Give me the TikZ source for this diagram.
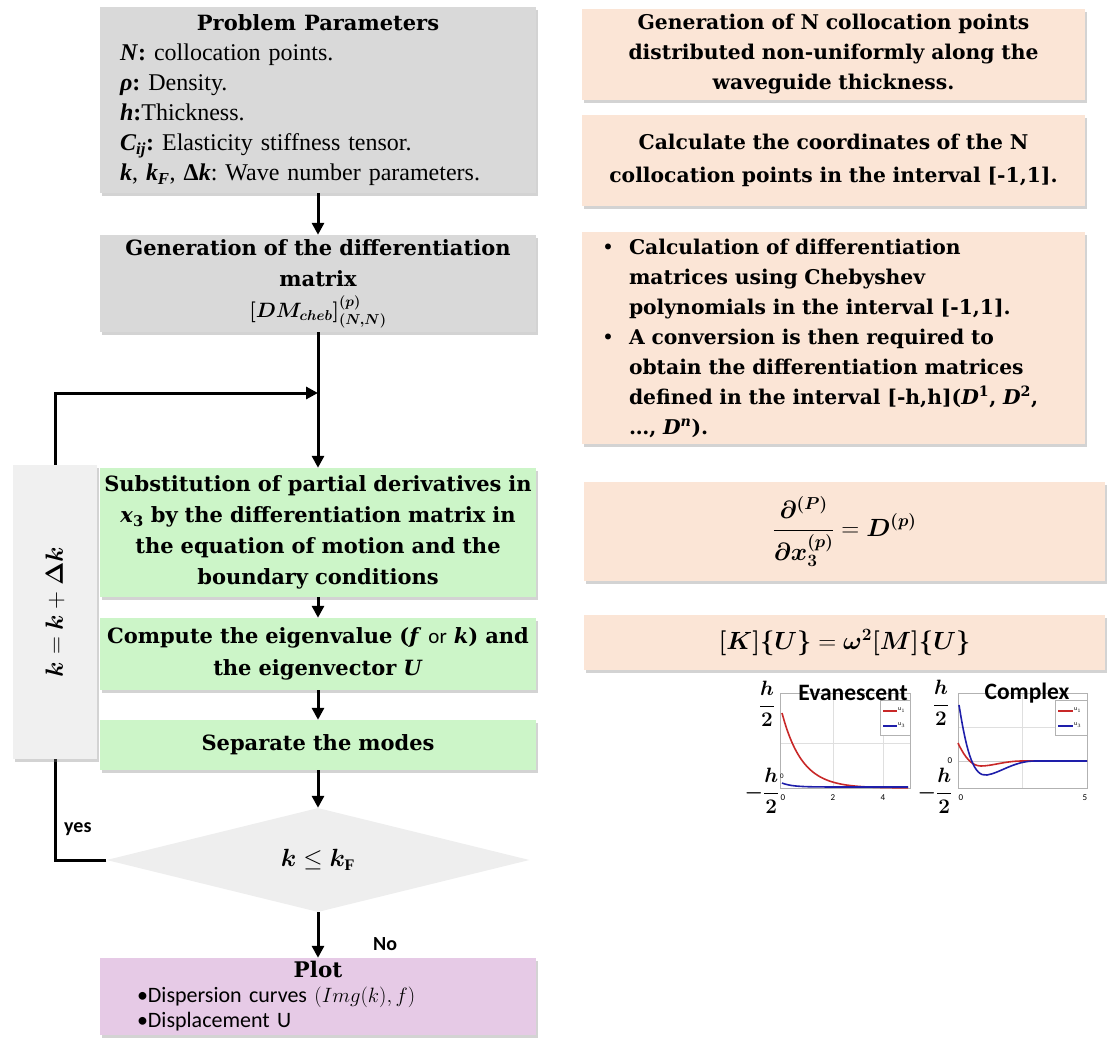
\documentclass[tikz,border=0pt]{standalone}
\usepackage{fontspec}
\usepackage{amsmath}
\usepackage{bm}
\setmainfont{Liberation Serif}
\newfontfamily\hdfam{DejaVu Serif}
\newfontfamily\calib{Carlito}
\usetikzlibrary{arrows.meta,shapes.geometric,shadows}
\definecolor{peach}{RGB}{251,229,214}
\definecolor{boxgray}{RGB}{217,217,217}
\definecolor{boxgreen}{RGB}{204,245,200}
\definecolor{boxpurple}{RGB}{230,202,230}
\definecolor{bargray}{RGB}{240,240,240}
\definecolor{diagray}{RGB}{238,238,238}
\definecolor{plred}{RGB}{200,40,40}
\definecolor{plblue}{RGB}{30,30,170}
\pgfdeclarelayer{bg}
\pgfsetlayers{bg,main}
\newcommand{\hdf}{\hdfam\bfseries\fontsize{20.3}{30}\selectfont}
\newcommand{\hdl}{\hdfam\bfseries\fontsize{21}{31}\selectfont}
\newcommand{\bi}[1]{\textbf{\textit{#1}}}
\frenchspacing
\begin{document}
\frenchspacing
\begin{tikzpicture}[x=1pt,y=-1pt,
  shd/.style={drop shadow={shadow xshift=2pt,shadow yshift=-3pt,opacity=0.35}},
  card/.style={shd,inner ysep=0pt,inner xsep=20pt,text width=#1},
  lcard/.style={shd,inner ysep=0pt,inner xsep=3pt,text width=430pt,align=center,font=\hdl},
  arr/.style={line width=3pt,-{Triangle[length=12pt,width=12pt]}},
  tick/.style={font=\calib\fontsize{9}{10}\selectfont,inner sep=0pt},
  leg/.style={font=\calib\fontsize{6}{7}\selectfont,inner sep=0pt,anchor=west},
  ptitle/.style={font=\calib\bfseries\fontsize{23.5}{24}\selectfont,inner sep=0pt},
  hlab/.style={font=\fontsize{21}{24}\selectfont,inner sep=0pt},
  lbl/.style={font=\calib\bfseries\fontsize{20}{24}\selectfont,inner sep=0pt,anchor=west}]
\useasboundingbox (0,0) rectangle (1109,1038);

% ---------------- left column ----------------
\node[card=396pt,fill=boxgray,minimum height=186pt,align=left,
      font=\fontsize{24}{30}\selectfont\frenchspacing] (params) at (318,100)
 {\makebox[396pt][c]{\hdfam\bfseries\fontsize{21}{30}\selectfont Problem Parameters}\\
  \bi{N}\textbf{:} collocation points.\\
  \bi{ρ}\textbf{:} Density.\\
  \bi{h}\textbf{:}Thickness.\\
  \bi{C}\textsubscript{\bi{ij}}\textbf{:} Elasticity stiffness tensor.\\
  \bi{k}, \bi{k}\textsubscript{\bi{F}}, \textbf{Δ}\bi{k}: Wave number parameters.};

\node[lcard,fill=boxgray,minimum height=97pt] (diffm) at (318,283.5)
 {Generation of the differentiation\\ matrix\\ \mbox{$\bm{[DM_{cheb}]^{(p)}_{(N,N)}}$}};

\coordinate (j) at (318,393);

\node[lcard,fill=boxgreen,minimum height=129pt] (subst) at (318,532.5)
 {Substitution of partial derivatives in\\ \textit{x}\textsubscript{3} by the differentiation matrix in\\ the equation of motion and the\\ boundary conditions};

\node[lcard,fill=boxgreen,minimum height=72pt,font=\hdfam\bfseries\fontsize{21}{32}\selectfont] (eig) at (318,654)
 {Compute the eigenvalue (\textit{f} {\calib\mdseries or} \textit{k}) and\\ the eigenvector \textit{U}};

\node[lcard,fill=boxgreen,minimum height=50pt] (sep) at (318,745)
 {Separate the modes};

\node[diamond,fill=diagray,minimum width=423pt,minimum height=104pt,inner sep=0pt,aspect=4,
      font=\fontsize{23}{26}\selectfont] (cond) at (318,860)
 {\mbox{$\bm{k}\le\bm{k}_{\mathbf{F}}$}};

\node[card=362pt,inner xsep=37pt,fill=boxpurple,minimum height=77pt,align=left,
      font=\calib\fontsize{22}{25}\selectfont] (plotb) at (318,996.5)
 {\makebox[362pt][c]{\hdfam\bfseries\fontsize{21.5}{25}\selectfont Plot}\\
  •Dispersion curves \mbox{$(Img(k),f)$}\\
  •Displacement U};

\node[shd,fill=bargray,minimum width=84pt,minimum height=294pt,inner sep=0pt] (bar) at (55,612) {};
\node[rotate=90,font=\fontsize{25}{28}\selectfont] (barlbl) at (bar.center) {\mbox{$\bm{k}=\bm{k}+\bm{\Delta k}$}};

% connectors
\draw[arr] (params.south) -- (diffm.north);
\draw[arr] (diffm.south) -- (subst.north);
\draw[arr] (subst.south) -- (eig.north);
\draw[arr] (eig.south) -- (sep.north);
\draw[arr] (sep.south) -- (cond.north);
\draw[arr] (cond.south) -- (plotb.north);
\begin{pgfonlayer}{bg}
\draw[arr] (cond.west) -- (cond.west -| bar.center) -- (bar.center |- j) -- (j);
\end{pgfonlayer}
\node[lbl] (yes) at (64,829) {yes};
\node[lbl] (no) at (373,944) {No};

% ---------------- right column ----------------
\node[card=463pt,fill=peach,minimum height=91pt,align=center,font=\hdf] (r1) at (833.5,54.5)
 {Generation of N collocation points\\ distributed non-uniformly along the\\ waveguide thickness.};

\node[card=463pt,fill=peach,minimum height=91pt,align=center,font=\hdfam\bfseries\fontsize{20.3}{33}\selectfont] (r2) at (833.5,160.5)
 {Calculate the coordinates of the N\\ collocation points in the interval [-1,1].};

\node[card=463pt,fill=peach,minimum height=212pt,align=left,font=\hdf] (r3) at (833.5,338)
 {\makebox[27pt][l]{\mdseries\textbullet}Calculation of differentiation\\
  \hspace*{27pt}matrices using Chebyshev\\
  \hspace*{27pt}polynomials in the interval [-1,1].\\
  \makebox[27pt][l]{\mdseries\textbullet}A conversion is then required to\\
  \hspace*{27pt}obtain the differentiation matrices\\
  \hspace*{27pt}defined in the interval [-h,h](\textit{D}\textsuperscript{1}, \textit{D}\textsuperscript{2},\\
  \hspace*{27pt}…, \textit{D}\textsuperscript{\textit{n}}).};

\node[card=481pt,fill=peach,minimum height=99pt,align=center,font=\fontsize{24}{28}\selectfont] (r4) at (844.5,531.5)
 {\mbox{$\displaystyle\bm{\frac{\partial^{(P)}}{\partial x_3^{(p)}}}=\bm{D^{(p)}}$}};

\node[card=481pt,fill=peach,minimum height=55pt,align=center,font=\fontsize{23}{26}\selectfont] (r5) at (844.5,642.5)
 {\mbox{$\bm{[K]\{U\}}=\bm{\omega^2[M]\{U\}}$}};

% ---------------- small plots ----------------
% Evanescent
\draw[gray!25,line width=0.5pt] (780,743) -- (910,743) (833,693) -- (833,788) (883,693) -- (883,788);
\draw[gray!60,line width=0.6pt] (780,693) rectangle (910,788);
\draw[plred,line width=1.6pt] plot[domain=0:126,samples=50,smooth] ({782+\x},{788-75*exp(-\x/20)});
\draw[plblue,line width=1.6pt] plot[domain=0:126,samples=40,smooth] ({782+\x},{787-4*exp(-\x/10)});
\draw[gray!60,fill=white,line width=0.5pt] (880,700) rectangle (910,735);
\draw[plred,line width=1.2pt] (883,711) -- (897,711);
\draw[plblue,line width=1.2pt] (883,726) -- (897,726);
\node[leg] (el1) at (898,710) {u$_1$};
\node[leg] (el3) at (898,725) {u$_3$};
\node[ptitle] (evt) at (853,693) {Evanescent};
\node[hlab] (eh1) at (767,704) {\mbox{$\bm{\dfrac{h}{2}}$}};
\node[hlab] (eh2) at (762,791) {\mbox{$\bm{-\dfrac{h}{2}}$}};
\node[tick] (ex0) at (783,798) {0};
\node[tick] (ex2) at (833,798) {2};
\node[tick] (ex4) at (883,798) {4};
\node[tick,font=\calib\fontsize{7}{8}\selectfont] (ey0) at (782,776) {0};

% Complex
\draw[gray!25,line width=0.5pt] (958,727) -- (1087,727) (1022,693) -- (1022,788);
\draw[gray!40,line width=0.5pt] (958,761) -- (1087,761);
\draw[gray!60,line width=0.6pt] (958,693) rectangle (1087,788);
\draw[plred,line width=1.6pt] (958,743) .. controls (965,758) and (972,766) .. (981,766)
   .. controls (992,766) and (1005,761) .. (1022,761) -- (1087,761);
\draw[plblue,line width=1.6pt] (959,705) .. controls (967,755) and (974,777) .. (987,775)
   .. controls (1000,773) and (1014,761) .. (1035,761) -- (1087,761);
\draw[gray!60,fill=white,line width=0.5pt] (1055,700) rectangle (1087,735);
\draw[plred,line width=1.2pt] (1058,711) -- (1073,711);
\draw[plblue,line width=1.2pt] (1058,726) -- (1073,726);
\node[leg] (cl1) at (1074,710) {u$_1$};
\node[leg] (cl3) at (1074,725) {u$_3$};
\node[ptitle] (cpt) at (1027,693) {Complex};
\node[hlab] (ch1) at (941,703) {\mbox{$\bm{\dfrac{h}{2}}$}};
\node[hlab] (ch2) at (935,791) {\mbox{$\bm{-\dfrac{h}{2}}$}};
\node[tick] (cx0) at (961,798) {0};
\node[tick] (cx5) at (1085,798) {5};
\node[tick] (cy0) at (950,761) {0};
\end{tikzpicture}
\end{document}
